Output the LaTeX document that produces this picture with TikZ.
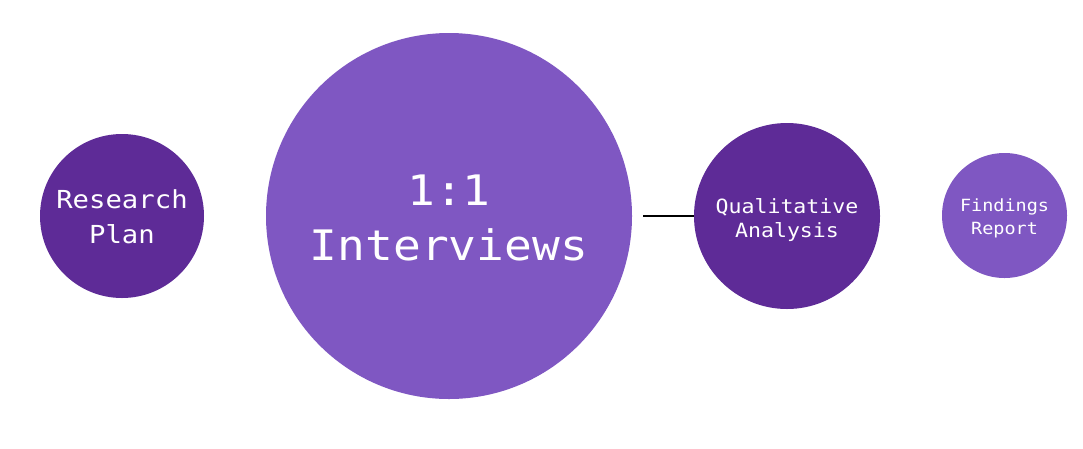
\documentclass[tikz,border=0pt]{standalone}
\usepackage{fontspec}
\newfontfamily\monofont[FakeStretch=1.1]{DejaVu Sans Mono}
\definecolor{darkpurple}{RGB}{94,43,151}
\definecolor{lightpurple}{RGB}{127,87,194}
\begin{document}
\begin{tikzpicture}[x=1pt,y=-1pt,
  bubble/.style={circle,inner sep=0pt,minimum size=#1,draw=none},
  lbl/.style={text=white,anchor=base,inner sep=0pt,font=\monofont\fontsize{#1}{#1}\selectfont}]
\useasboundingbox (0,0) rectangle (1083,448);
\node[bubble=164pt,fill=darkpurple] (plan) at (122,216) {};
\node[bubble=366pt,fill=lightpurple] (interviews) at (449,216) {};
\node[bubble=186pt,fill=darkpurple] (analysis) at (787,216) {};
\node[bubble=125pt,fill=lightpurple] (report) at (1004.5,215.5) {};
\node[lbl=24.8] (t1) at (122,208) {Research};
\node[lbl=24.8] (t2) at (122,243) {Plan};
\node[lbl=42] (t3) at (449,205) {1:1};
\node[lbl=42] (t4) at (449,260) {Interviews};
\node[lbl=19.6] (t5) at (787,213) {Qualitative};
\node[lbl=19.6] (t6) at (787,237) {Analysis};
\node[lbl=16.8] (t7) at (1004.5,211.5) {Findings};
\node[lbl=16.8] (t8) at (1004.5,234) {Report};
\coordinate (lstart) at (643,216);
\draw[line width=2.5pt,black] (lstart) -- (analysis.west);
\end{tikzpicture}
\end{document}
